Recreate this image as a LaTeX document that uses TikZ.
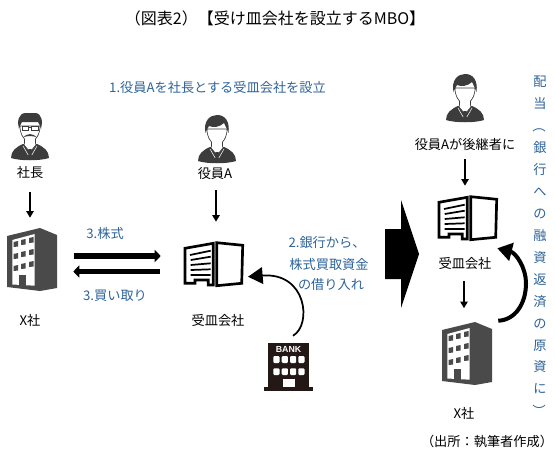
\documentclass[tikz,border=0pt]{standalone}
\usepackage{fontspec}
\setmainfont{Noto Sans CJK JP}
\newfontfamily\banklabel{Liberation Sans}
\usetikzlibrary{arrows.meta,calc}
\definecolor{lblue}{HTML}{2E6399}
\definecolor{idark}{HTML}{3C3C3C}
\definecolor{bdark}{HTML}{4A4A4A}
\definecolor{bkdark}{HTML}{231815}
\tikzset{
  x=0.75pt,y=-0.75pt,
  txt/.style={inner sep=0pt,font=\fontsize{9.9}{12}\selectfont,text=black},
  bluetxt/.style={inner sep=0pt,font=\fontsize{9.9}{12}\selectfont,text=lblue},
  hold/.style 2 args={inner sep=0pt,minimum width=#1*0.75pt,minimum height=#2*0.75pt},
  thinarr/.style={-{Triangle[width=5.5pt,length=5pt]},line width=1.2pt,black},
  flatarr/.style={-{Triangle[width=9pt,length=4.5pt]},line width=4.2pt,black},
  pics/torso/.style={code={
    \fill[idark] (-19,-2) .. controls (-19,-9) and (-14,-13) .. (-7,-16) -- (7,-16) .. controls (14,-13) and (19,-9) .. (19,-2) .. controls (10,1) and (-10,1) .. cycle;
    \draw[idark,line width=0.5pt,fill=white] (-10,-34) .. controls (-10,-26) and (-7,-23) .. (-5.5,-21) -- (-5.5,-17) -- (-6,-15) -- (0,-8) -- (6,-15) -- (5.5,-17) -- (5.5,-21) .. controls (7,-23) and (10,-26) .. (10,-34) -- cycle;
    \fill[idark] (-1.5,-11) -- (1.5,-11) -- (1.9,-3) -- (0,0) -- (-1.9,-3) -- cycle;
    \draw[white,line width=0.4pt] (-7,-14) -- (-1.8,-5) (7,-14) -- (1.8,-5);
  }},
  pics/bust/.style={code={
    \pic {torso};
    \fill[idark] (-11.5,-30) .. controls (-14,-42) and (-7,-48) .. (0,-48) .. controls (8,-48) and (13,-42) .. (11.5,-30) .. controls (10.5,-33) and (9,-36) .. (7,-40) .. controls (3,-36) and (-4,-35) .. (-8,-37) .. controls (-9,-35) and (-10.5,-33) .. cycle;
  }},
  pics/bossbust/.style={code={
    \pic {torso};
    \fill[idark] (-11,-31) .. controls (-13,-38) and (-12,-47) .. (-4,-47) -- (5,-47) .. controls (12,-47) and (13,-38) .. (11,-31) .. controls (10,-34) and (9,-37) .. (8,-38) -- (-8,-38) .. controls (-9,-37) and (-10,-34) .. cycle;
    \draw[idark,line width=0.5pt] (-8,-34) rectangle (-1.5,-29.5) (1.5,-34) rectangle (8,-29.5) (-1.5,-33) -- (1.5,-33);
    \fill[idark] (-7,-22.5) .. controls (-3,-27) and (3,-27) .. (7,-22.5) .. controls (3,-24.5) and (-3,-24.5) .. cycle;
  }},
  pics/tower/.style={code={
    \fill[bdark] (0,8) -- (33,0) -- (50,7) -- (50,60) -- (33,63) -- (0,59) -- cycle;
    \fill[white] (5.3,12) -- (27.7,6) -- (27.7,57.7) -- (5.3,56.5) -- cycle;
    \foreach \cx/\sk in {6.5/0,14/-2,22/-4}{
      \foreach \ry in {13,25,37}{
        \fill[bdark] (\cx,\ry+\sk+1) -- (\cx+4.5,\ry+\sk) -- (\cx+4.5,\ry+\sk+5.5) -- (\cx,\ry+\sk+6) -- cycle;
      }
    }
    \fill[bdark] (12.3,47) rectangle (19.4,58);
  }},
  pics/shell/.style={code={
    \draw[black,line width=2pt,line join=miter] (1,5.3) -- (29.3,0.3) -- (29.3,42) -- (24.3,42) -- (24.3,37) -- (11,37) -- (11,40.3) -- (1,40.3) -- cycle;
    \draw[black,line width=2pt,line join=miter] (32.7,-0.3) -- (58.7,2.3) -- (57.7,40.3) -- (32.7,42.7) -- cycle;
    \draw[black,line width=1.3pt] (6,12) -- (26.7,7.7) (6.7,17) -- (26.7,13.7) (6.7,22) -- (26.7,20.3) (6.7,27) -- (26.7,26.3) (6.7,32) -- (26.7,32);
  }},
  pics/bankhouse/.style={code={
    \fill[bkdark] (4.3,0) rectangle (45.3,44);
    \fill[bkdark] (0,43.7) rectangle (48.7,47.7);
    \foreach \wx in {9.3,17.7,26,34.3}{
      \fill[white,rounded corners=0.8pt] (\wx,13) rectangle (\wx+6.2,20);
      \fill[white,rounded corners=0.8pt] (\wx,25.3) rectangle (\wx+6.2,32);
    }
    \fill[white] (18.7,36.3) rectangle (31,44);
    \node[inner sep=0pt,text=white,font=\banklabel\bfseries\fontsize{6.6}{7}\selectfont] at (24.5,6) {BANK};
  }}
}
\begin{document}
\begin{tikzpicture}
\useasboundingbox (0,0) rectangle (555,460);
% texts
\node[txt,font=\fontsize{12}{14}\selectfont] (title) at (275,18) {（図表2）【受け皿会社を設立するMBO】};
\node[bluetxt] (step1) at (217.5,87) {1.役員Aを社長とする受皿会社を設立};
\node[txt] (src) at (487,441) {（出所：執筆者作成）};
% left column
\pic at (30,160) {bossbust};
\node[txt] (boss) at (30,173) {社長};
\node[hold={50}{63}] (xl) at (32,259.5) {};
\pic at (7,228) {tower};
\node[txt] (xllab) at (30,320) {X社};
% middle column
\pic at (217,163) {bust};
\node[txt] (exec) at (215,174) {役員A};
\node[hold={59}{43}] (ul) at (213.5,264.5) {};
\pic at (184,243) {shell};
\node[txt] (ullab) at (218,320) {受皿会社};
\node[hold={49}{48}] (bank) at (288.5,367) {};
\pic at (264,343) {bankhouse};
% labels on the left flows
\node[bluetxt] (stock) at (105,233) {3.株式};
\node[bluetxt] (buy) at (115,296) {3.買い取り};
\node[bluetxt] (loana) at (327,242) {2.銀行から、};
\node[bluetxt] (loanb) at (329,264) {株式買取資金};
\node[bluetxt] (loanc) at (331,285) {の借り入れ};
% right column
\pic at (465,122) {bust};
\node[txt] (heir) at (465,144) {役員Aが後継者に};
\node[hold={59}{47}] (ur) at (467.5,219.5) {};
\pic at (438,197) {shell};
\node[txt] (urlab) at (465,263) {受皿会社};
\node[hold={50}{63}] (xr) at (466.5,354) {};
\pic at (442,322) {tower};
\node[txt] (xrlab) at (464,413) {X社};
% vertical text
\node[bluetxt,font=\fontsize{9.9}{16.45}\selectfont,align=center,anchor=north] (vert) at (540,76) {配\\当\\\rotatebox[origin=c]{-90}{（}\\銀\\行\\へ\\の\\融\\資\\返\\済\\の\\原\\資\\に\\\rotatebox[origin=c]{-90}{）}};
% big arrow
\fill[black] (385,229) -- (401,229) -- (401,200) -- (419,254) -- (401,308) -- (401,279) -- (385,279) -- cycle;
% connectors
\draw[thinarr] ($(boss.south)+(0,13)$) -- ($(boss.south |- xl.north)+(0,-10)$);
\draw[thinarr] ($(exec.south)+(1,10)$) -- ($(exec.south |- ul.north)+(1,-21)$);
\draw[thinarr] ($(heir.south)+(0,9)$) -- ($(heir.south |- ur.north)+(0,-10)$);
\draw[thinarr] ($(urlab.south)+(-1,12)$) -- ($(urlab.south |- xr.north)+(-1,-14)$);
\draw[flatarr] ($(xl.east)+(17,-3.5)$) -- ($(ul.west)+(-23,-8.5)$);
\draw[flatarr] ($(ul.west)+(-24,7)$) -- ($(xl.east)+(16,12)$);
\draw[-{Triangle[width=12.5pt,length=11pt]},line width=1.3pt,black] ($(bank.north)+(4.5,-7)$) .. controls (312,325) and (307,272) .. ($(bank.north)+(-40.5,-66)$);
\draw[-{Triangle[width=13.5pt,length=11pt]},line width=3pt,black] ($(xr.north east)+(6.5,-1.5)$) .. controls (515,320) and (526,304) .. (526,283) .. controls (526,268) and (516,253) .. ($(ur.south east)+(0,5)$);
\end{tikzpicture}
\end{document}
